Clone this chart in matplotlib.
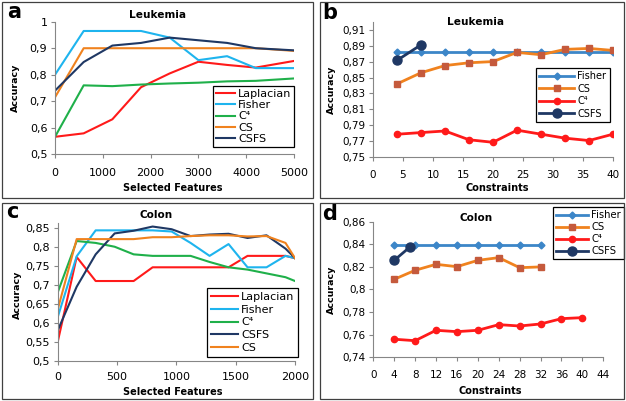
import numpy as np
import matplotlib
matplotlib.use("Agg")
import matplotlib.pyplot as plt
from matplotlib.patches import Rectangle
from matplotlib.ticker import FuncFormatter, MultipleLocator

plt.rcParams['font.family'] = ['DejaVu Sans']

# panel a : Leukemia, selected features
feat_a = [0, 600, 1200, 1800, 2400, 3000, 3600, 4200, 5000]
lap_a = [0.566, 0.579, 0.632, 0.753, 0.805, 0.849, 0.837, 0.827, 0.852]
fis_a = [0.80, 0.965, 0.965, 0.965, 0.94, 0.855, 0.87, 0.825, 0.825]
c4_a = [0.566, 0.76, 0.757, 0.763, 0.767, 0.77, 0.775, 0.777, 0.786]
cs_a = [0.715, 0.90, 0.90, 0.90, 0.90, 0.90, 0.90, 0.90, 0.89]
csfs_a = [0.74, 0.848, 0.91, 0.92, 0.94, 0.93, 0.92, 0.90, 0.892]

# panel b : Leukemia, constraints
cons_b = [4, 8, 12, 16, 20, 24, 28, 32, 36, 40]
fis_b = [0.8824] * 10
cs_b = [0.842, 0.856, 0.865, 0.8685, 0.870, 0.8815, 0.8786, 0.8853, 0.8865, 0.884]
c4_b = [0.7789, 0.781, 0.783, 0.772, 0.7688, 0.784, 0.779, 0.774, 0.771, 0.779]
cons_csfs_b = [4, 8]
csfs_b = [0.8715, 0.891]

# panel c : Colon, selected features
feat_c = [0, 160, 320, 480, 640, 800, 960, 1120, 1280, 1440, 1600, 1760, 1920, 2000]
lap_c = [0.55, 0.773, 0.71, 0.71, 0.71, 0.746, 0.746, 0.746, 0.746, 0.746, 0.776, 0.776, 0.776, 0.77]
fis_c = [0.615, 0.775, 0.843, 0.843, 0.843, 0.843, 0.84, 0.81, 0.776, 0.807, 0.746, 0.746, 0.776, 0.77]
c4_c = [0.68, 0.815, 0.81, 0.80, 0.78, 0.776, 0.776, 0.776, 0.76, 0.746, 0.74, 0.73, 0.72, 0.71]
csfs_c = [0.58, 0.695, 0.78, 0.835, 0.842, 0.853, 0.846, 0.828, 0.832, 0.834, 0.823, 0.83, 0.795, 0.77]
cs_c = [0.635, 0.82, 0.82, 0.82, 0.82, 0.825, 0.825, 0.828, 0.83, 0.83, 0.827, 0.828, 0.81, 0.77]

# panel d : Colon, constraints
cons_d = [4, 8, 12, 16, 20, 24, 28, 32]
fis_d = [0.839] * 8
cs_d = [0.809, 0.817, 0.8223, 0.8202, 0.8258, 0.8282, 0.8193, 0.82]
cons_c4_d = [4, 8, 12, 16, 20, 24, 28, 32, 36, 40]
c4_d = [0.756, 0.7547, 0.7639, 0.7627, 0.7639, 0.7689, 0.7677, 0.7695, 0.7742, 0.7751]
cons_csfs_d = [4, 7]
csfs_d = [0.8258, 0.8376]

RED = '#FF1A1A'
LBLUE = '#1EB4EE'
GREEN = '#1FB04A'
ORANGE = '#F0821E'
NAVY = '#1F3864'
SBLUE = '#3C86C8'
SQ = '#C55A3C'
AXC = '#868686'

W, H = 626, 401
fig = plt.figure(figsize=(W / 100, H / 100), dpi=100)


def px_axes(l, r, t, b):
    return fig.add_axes([l / W, 1 - b / H, (r - l) / W, (b - t) / H])


def comma(v, pos):
    s = '%g' % round(v, 4)
    return s.replace('.', ',')


def style(ax, fs, xpad):
    for s in ['top', 'right']:
        ax.spines[s].set_visible(False)
    for s in ['left', 'bottom']:
        ax.spines[s].set_color(AXC)
        ax.spines[s].set_linewidth(0.8)
    ax.tick_params(colors=AXC, labelcolor='black', labelsize=fs, length=3, width=0.8, pad=2.5)
    ax.tick_params(axis='x', pad=xpad)
    ax.yaxis.set_major_formatter(FuncFormatter(comma))


def frame(l, t, r, b):
    fig.add_artist(Rectangle((l / W, 1 - b / H), (r - l) / W, (b - t) / H,
                             transform=fig.transFigure, fill=False,
                             edgecolor='#404040', linewidth=0.9))


def ftext(x, y, s, **kw):
    fig.text(x / W, 1 - y / H, s, ha='center', va='center', **kw)


def leg(ax, x, y, fs, **kw):
    lg = ax.legend(loc='upper left', bbox_to_anchor=(x / W, 1 - y / H),
                   bbox_transform=fig.transFigure, borderaxespad=0,
                   fancybox=False, edgecolor='black', framealpha=1,
                   fontsize=fs, **kw)
    lg.get_frame().set_linewidth(0.9)
    return lg


frame(2, 2, 313, 198)
frame(320, 2, 624, 198)
frame(2, 203, 313, 399)
frame(320, 203, 624, 399)

# ---- a
ax = px_axes(55, 294, 21.7, 154.3)
style(ax, 8, 7)
lw = 1.5
ax.plot(feat_a, lap_a, color=RED, lw=lw, label='Laplacian')
ax.plot(feat_a, fis_a, color=LBLUE, lw=lw, label='Fisher')
ax.plot(feat_a, c4_a, color=GREEN, lw=lw, label='C⁴')
ax.plot(feat_a, cs_a, color=ORANGE, lw=lw, label='CS')
ax.plot(feat_a, csfs_a, color=NAVY, lw=lw, label='CSFS')
ax.set_xlim(0, 5000)
ax.set_ylim(0.5, 1.0)
ax.xaxis.set_major_locator(MultipleLocator(1000))
ax.yaxis.set_major_locator(MultipleLocator(0.1))
leg(ax, 213, 86, 8, handlelength=1.7, handletextpad=0.3, labelspacing=0.12, borderpad=0.25)

# ---- b
ax = px_axes(373, 613, 21.7, 157.3)
style(ax, 7.5, 6.5)
ax.plot(cons_b, fis_b, color=SBLUE, lw=2, marker='D', ms=3.5, label='Fisher')
ax.plot(cons_b, cs_b, color=ORANGE, lw=2, marker='s', ms=4.5, mfc=SQ, mec=SQ, label='CS')
ax.plot(cons_b, c4_b, color=RED, lw=2, marker='o', ms=4.5, label='C⁴')
ax.plot(cons_csfs_b, csfs_b, color=NAVY, lw=2, marker='o', ms=6.5, label='CSFS')
ax.set_xlim(0, 40)
ax.set_ylim(0.75, 0.92)
ax.xaxis.set_major_locator(MultipleLocator(5))
ax.set_yticks(np.arange(0.75, 0.915, 0.02))
leg(ax, 536, 68, 7, handlelength=3.6, handletextpad=0.3, labelspacing=0.25, borderpad=0.35)

# ---- c
ax = px_axes(57.7, 295, 223.5, 361)
style(ax, 8, 5)
ax.plot(feat_c, lap_c, color=RED, lw=lw, label='Laplacian')
ax.plot(feat_c, fis_c, color=LBLUE, lw=lw, label='Fisher')
ax.plot(feat_c, c4_c, color=GREEN, lw=lw, label='C⁴')
ax.plot(feat_c, csfs_c, color=NAVY, lw=lw, label='CSFS')
ax.plot(feat_c, cs_c, color=ORANGE, lw=lw, label='CS')
ax.set_xlim(0, 2000)
ax.set_ylim(0.5, 0.861)
ax.xaxis.set_major_locator(MultipleLocator(500))
ax.set_yticks(np.arange(0.5, 0.855, 0.05))
leg(ax, 207, 288, 8, handlelength=2.4, handletextpad=0.3, labelspacing=0.25, borderpad=0.35)

# ---- d
ax = px_axes(373.3, 603.3, 221.7, 357.3)
style(ax, 7.5, 6)
ax.plot(cons_d, fis_d, color=SBLUE, lw=2, marker='D', ms=3.5, label='Fisher')
ax.plot(cons_d, cs_d, color=ORANGE, lw=2, marker='s', ms=4.5, mfc=SQ, mec=SQ, label='CS')
ax.plot(cons_c4_d, c4_d, color=RED, lw=2, marker='o', ms=4.5, label='C⁴')
ax.plot(cons_csfs_d, csfs_d, color=NAVY, lw=2, marker='o', ms=6.5, label='CSFS')
ax.set_xlim(0, 44)
ax.set_ylim(0.74, 0.86)
ax.xaxis.set_major_locator(MultipleLocator(4))
ax.yaxis.set_major_locator(MultipleLocator(0.02))
leg(ax, 553, 207, 7.2, handlelength=3.2, handletextpad=0.3, labelspacing=0.2, borderpad=0.3)

# titles, labels, letters
ftext(157, 15, 'Leukemia', fontweight='bold', fontsize=7.6)
ftext(476, 22, 'Leukemia', fontweight='bold', fontsize=7.6)
ftext(156, 215, 'Colon', fontweight='bold', fontsize=7.5)
ftext(476, 218, 'Colon', fontweight='bold', fontsize=7.5)
lab = dict(fontweight='bold', fontsize=7)
ftext(173, 188, 'Selected Features', **lab)
ftext(497, 188, 'Constraints', **lab)
ftext(173, 392, 'Selected Features', **lab)
ftext(490, 391, 'Constraints', **lab)
ylab = dict(fontweight='bold', fontsize=6.8, rotation=90)
ftext(15, 88, 'Accuracy', **ylab)
ftext(331, 90, 'Accuracy', **ylab)
ftext(17, 295, 'Accuracy', **ylab)
ftext(331, 290, 'Accuracy', **ylab)

let = dict(fontweight='bold', fontsize=15)
ftext(14, 12, 'a', **let)
ftext(330, 13, 'b', **let)
ftext(12, 212, 'c', **let)
ftext(330, 214, 'd', **let)

fig.savefig('out.png', dpi=100)
